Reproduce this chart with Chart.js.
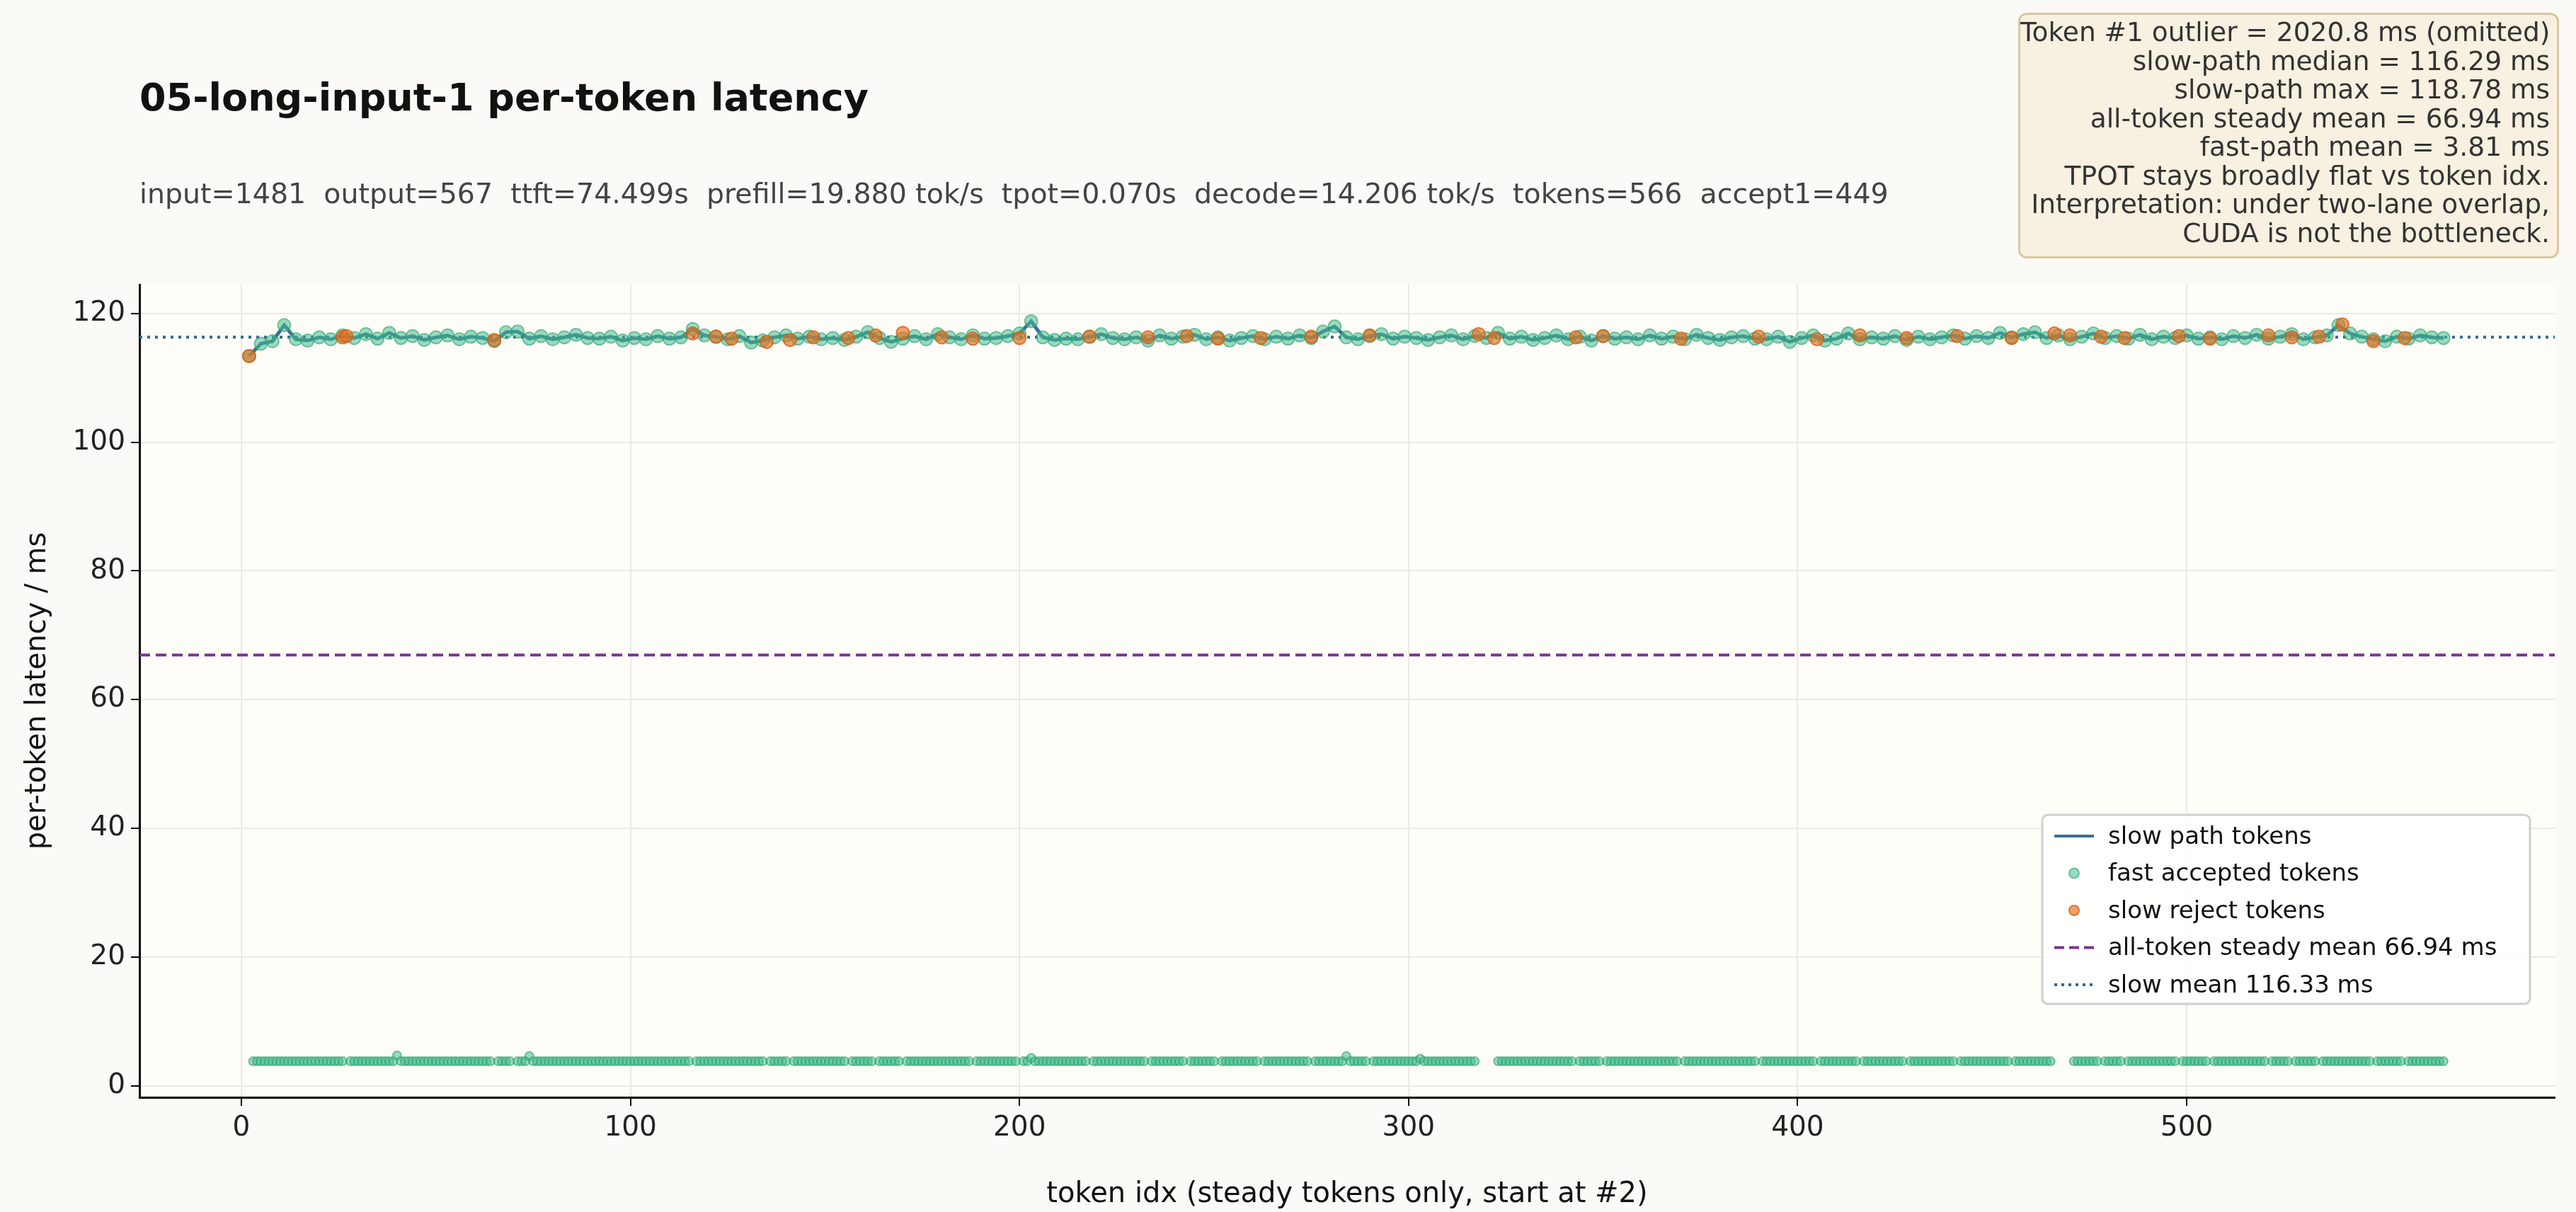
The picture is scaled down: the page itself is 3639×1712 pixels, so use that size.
<!DOCTYPE html>
<html><head><meta charset="utf-8">
<script src="https://cdn.jsdelivr.net/npm/chart.js@4/dist/chart.umd.min.js"></script>
<style>
html,body{margin:0;padding:0;background:#fbfaf6;width:3639px;height:1712px;overflow:hidden;font-family:"DejaVu Sans",sans-serif;}
#c{position:absolute;left:0;top:0;}
#title{position:absolute;left:197px;top:106px;font-size:54px;font-weight:bold;color:#111;}
#sub{position:absolute;left:197px;top:250px;font-size:39.5px;color:#444;white-space:pre;}
#note{position:absolute;left:2851px;top:18px;width:764px;height:347px;box-sizing:border-box;background:#f8f0e0;border:3px solid #d8c8a0;border-radius:12px;text-align:right;font-size:37.5px;line-height:40.5px;color:#333;padding:4px 10px 0 0;white-space:nowrap;}
</style></head><body>
<canvas id="c" width="3639" height="1712"></canvas>
<div id="title">05-long-input-1 per-token latency</div>
<div id="sub">input=1481  output=567  ttft=74.499s  prefill=19.880 tok/s  tpot=0.070s  decode=14.206 tok/s  tokens=566  accept1=449</div>
<div id="note">Token #1 outlier = 2020.8 ms (omitted)<br>slow-path median = 116.29 ms<br>slow-path max = 118.78 ms<br>all-token steady mean = 66.94 ms<br>fast-path mean = 3.81 ms<br>TPOT stays broadly flat vs token idx.<br>Interpretation: under two-lane overlap,<br>CUDA is not the bottleneck.</div>
<script>
const slowStart = 2, slowStep = 3;
const slowY = [
113.4,115.3,115.7,118.2,116.0,115.8,116.3,116.0,116.6,116.2,
116.8,116.1,117.0,116.2,116.5,115.9,116.3,116.6,116.0,116.4,
116.2,115.7,117.1,117.2,116.1,116.5,116.0,116.3,116.7,116.2,
116.1,116.4,115.8,116.2,116.0,116.5,116.1,116.3,117.6,116.6,
116.4,116.0,116.5,115.5,115.8,116.3,116.6,116.1,116.4,116.0,
116.2,115.9,116.4,117.1,116.2,115.6,116.1,116.5,116.0,116.8,
116.3,116.0,116.6,116.1,116.2,116.5,116.9,118.8,116.3,115.9,
116.1,116.0,116.4,116.8,116.2,116.0,116.3,115.8,116.6,116.1,
116.4,116.7,116.0,116.3,115.8,116.2,116.5,116.0,116.4,116.1,
116.6,116.2,117.2,118.0,116.3,116.0,116.5,116.8,116.1,116.4,
116.2,115.9,116.3,116.6,116.0,116.5,116.2,117.0,116.1,116.4,
115.9,116.2,116.6,116.0,116.4,115.8,116.5,116.1,116.3,116.0,
116.6,116.1,116.4,116.0,116.7,116.2,115.9,116.3,116.5,116.1,
116.0,116.4,115.6,116.2,116.6,115.8,116.1,116.9,116.0,116.3,
116.1,116.5,115.9,116.4,116.0,116.3,116.6,116.1,116.5,116.2,
117.0,116.3,116.8,117.1,116.2,116.6,116.0,116.4,116.9,116.2,
116.5,116.1,116.7,116.0,116.4,116.2,116.6,116.1,116.3,116.0,
116.5,116.2,116.7,116.1,116.4,116.8,116.0,116.3,116.6,118.2,
116.9,116.4,116.0,115.7,116.4,116.1,116.6,116.3,116.2];
const rejectX = [2,26,27,65,116,122,126,135,141,147,156,163,170,180,188,200,218,233,243,251,262,275,290,318,322,343,350,370,390,405,416,428,441,455,466,470,478,484,498,506,521,527,534,540,548,556];
const rejectY = [113.4,116.3,116.5,115.9,116.9,116.4,116.1,115.6,115.9,116.3,116.2,116.6,117.0,116.3,116.1,116.2,116.4,116.3,116.5,116.1,116.2,116.4,116.6,116.8,116.2,116.3,116.5,116.1,116.4,116.0,116.6,116.2,116.5,116.2,116.9,116.6,116.4,116.2,116.5,116.1,116.6,116.3,116.4,118.3,115.7,116.2];
const fastRuns = [[3,26],[28,64],[66,69],[71,115],[117,134],[136,140],[142,155],[157,162],[164,169],[171,187],[189,199],[201,217],[219,232],[234,242],[244,250],[252,261],[263,274],[276,289],[291,317],[323,342],[344,349],[351,369],[371,389],[391,404],[406,415],[417,427],[429,440],[442,454],[456,465],[471,477],[479,483],[485,497],[499,505],[507,520],[522,526],[528,533],[535,547],[549,555],[557,566]];
const fastBase = 3.8;
const fastBumps = {40:4.7,74:4.6,116:4.5,203:4.3,284:4.6,303:4.2};
const allMean = 66.94, slowMean = 116.33;
const xMin = -26.2, xMax = 594.6, yMin = -1.8, yMax = 124.5;
const xTicks = [0,100,200,300,400,500], yTicks = [0,20,40,60,80,100,120];

const slowData = slowY.map((v,i)=>({x:slowStart+i*slowStep,y:v}));
const rejData = rejectX.map((x,i)=>({x:x,y:rejectY[i]}));
const fastData = [];
fastRuns.forEach(([a,b])=>{for(let x=a;x<=b;x++)fastData.push({x:x,y:fastBumps[x]!==undefined?fastBumps[x]:fastBase});});

const green='rgba(70,190,140,0.55)', greenB='rgba(40,160,110,0.6)', orange='rgba(230,110,30,0.65)', lineC='#3a6e98', purple='#7a3590', blue='#2c6a90';

const legendItems=[
 {t:'slow path tokens',k:'line',c:lineC},
 {t:'fast accepted tokens',k:'dot',c:green,b:greenB},
 {t:'slow reject tokens',k:'dot',c:orange,b:'rgba(210,95,20,0.8)'},
 {t:'all-token steady mean 66.94 ms',k:'dash',c:purple},
 {t:'slow mean 116.33 ms',k:'dot2',c:blue}];
const legendPlugin={id:'lg',afterDraw(ch){const g=ch.ctx;g.save();
 const x0=2885,y0=1151,w=689,h=267;
 g.fillStyle='rgba(255,255,255,0.85)';g.strokeStyle='#d0d0d0';g.lineWidth=3;
 g.beginPath();g.roundRect(x0,y0,w,h,8);g.fill();g.stroke();
 g.font='34px "DejaVu Sans"';g.textBaseline='middle';
 legendItems.forEach((it,i)=>{const y=y0+30+i*52.5;const lx=x0+17;
  g.strokeStyle=it.c;g.lineWidth=4;g.setLineDash([]);
  if(it.k==='line'){g.beginPath();g.moveTo(lx,y);g.lineTo(lx+56,y);g.stroke();}
  else if(it.k==='dash'){g.setLineDash([14,7]);g.beginPath();g.moveTo(lx,y);g.lineTo(lx+56,y);g.stroke();}
  else if(it.k==='dot2'){g.setLineDash([4,6]);g.beginPath();g.moveTo(lx,y);g.lineTo(lx+56,y);g.stroke();}
  else{g.fillStyle=it.c;g.strokeStyle=it.b;g.lineWidth=2;g.beginPath();g.arc(lx+28,y,7,0,7);g.fill();g.stroke();}
  g.setLineDash([]);g.fillStyle='#111';g.fillText(it.t,lx+76,y+2);});
 g.restore();}};
const bgPlugin={id:'bg',beforeDraw(ch){const a=ch.chartArea,g=ch.ctx;g.save();g.fillStyle='#fffdf8';g.fillRect(a.left,a.top,a.right-a.left,a.bottom-a.top);g.restore();}};

new Chart(document.getElementById('c'),{
 type:'scatter',
 data:{datasets:[
  {type:'line',data:[{x:xMin,y:slowMean},{x:xMax,y:slowMean}],borderColor:blue,borderWidth:4,borderDash:[4,7],pointRadius:0,order:5},
  {type:'line',data:[{x:xMin,y:allMean},{x:xMax,y:allMean}],borderColor:purple,borderWidth:4,borderDash:[15,8],pointRadius:0,order:5},
  {type:'line',data:slowData,borderColor:lineC,borderWidth:5,pointRadius:9,pointBackgroundColor:green,pointBorderColor:greenB,pointBorderWidth:2,order:3},
  {data:rejData,pointRadius:9,backgroundColor:orange,borderColor:'rgba(210,95,20,0.8)',borderWidth:2,order:1},
  {data:fastData,pointRadius:6,backgroundColor:green,borderColor:greenB,borderWidth:2,order:2}
 ]},
 options:{responsive:false,animation:false,devicePixelRatio:1,
  layout:{padding:{top:402,right:30,left:0,bottom:0}},
  plugins:{legend:{display:false},tooltip:{enabled:false}},
  scales:{
   x:{type:'linear',min:xMin,max:xMax,afterFit(s){s.height=162;},
    afterBuildTicks(s){s.ticks=xTicks.map(v=>({value:v}));},
    grid:{color:'#ebe9e5',lineWidth:2,tickLength:12,tickColor:'#000',drawTicks:true},
    border:{color:'#000',width:3},
    ticks:{font:{size:39,family:'DejaVu Sans'},color:'#222',padding:8,maxRotation:0},
    title:{display:true,text:'token idx (steady tokens only, start at #2)',font:{size:40,family:'DejaVu Sans'},color:'#111',padding:{top:4,bottom:0}}},
   y:{min:yMin,max:yMax,afterFit(s){s.width=197;},
    afterBuildTicks(s){s.ticks=yTicks.map(v=>({value:v}));},
    grid:{color:'#ebe9e5',lineWidth:2,tickLength:12,tickColor:'#000'},
    border:{color:'#000',width:3},
    ticks:{font:{size:39,family:'DejaVu Sans'},color:'#222',padding:8},
    title:{display:true,text:'per-token latency / ms',font:{size:40,family:'DejaVu Sans'},color:'#111',padding:{top:30,bottom:6}}}
  }},
 plugins:[bgPlugin,legendPlugin]
});
</script></body></html>
